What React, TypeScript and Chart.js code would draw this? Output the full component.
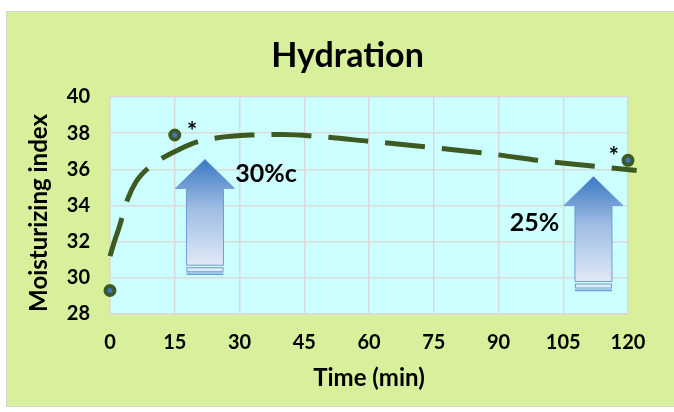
import React, { useEffect, useRef } from "react";
import { Chart, registerables } from "chart.js";

Chart.register(...registerables);

// ---- data ----
const chartTitle = "Hydration";
const xAxisTitle = "Time (min)";
const yAxisTitle = "Moisturizing index";
const xTickValues = [0, 15, 30, 45, 60, 75, 90, 105, 120];
const yTickValues = [28, 30, 32, 34, 36, 38, 40];

const measuredTimes = [0, 15, 120];
const measuredValues = [29.3, 37.9, 36.5];

const trendTimes = [0, 1, 2, 3, 4, 6, 9, 12, 16, 20, 25, 33, 40, 50, 60, 70, 80, 90, 100, 110, 122];
const trendValues = [31.2, 32.0, 32.7, 33.5, 34.3, 35.3, 36.1, 36.6, 37.1, 37.5, 37.75, 37.9, 37.93, 37.78, 37.55, 37.32, 37.07, 36.8, 36.47, 36.22, 35.94];

const arrowTimes = [22, 112];
const arrowTops = [36.55, 35.6];
const arrowBases = [30.2, 29.3];

const noteTexts = ["30%c", "25%", "*", "*"];
const noteTimes = [29.0, 92.6, 19, 116.7];
const noteValues = [35.28, 32.6, 37.6, 36.25];

const FONT = "Lato, 'Open Sans', sans-serif";

const decorPlugin = {
  id: "decor",
  beforeDraw(chart: any) {
    const ctx = chart.ctx;
    const { left, top, right, bottom } = chart.chartArea;
    ctx.save();
    ctx.fillStyle = "#ffffff";
    ctx.fillRect(0, 0, chart.width, chart.height);
    ctx.fillStyle = "#d8ef9b";
    ctx.fillRect(6, 11, 668, 396);
    ctx.strokeStyle = "#d4d4d4";
    ctx.lineWidth = 1;
    ctx.strokeRect(6.5, 11.5, 668, 395);
    ctx.fillStyle = "#ccffff";
    ctx.fillRect(left, top, right - left, bottom - top);
    ctx.restore();
  },
  beforeDatasetsDraw(chart: any) {
    const ctx = chart.ctx;
    const xs = chart.scales.x;
    const ys = chart.scales.y;
    ctx.save();
    arrowTimes.forEach((t, i) => {
      const cx = xs.getPixelForValue(t);
      const yTip = ys.getPixelForValue(arrowTops[i]);
      const yBase = ys.getPixelForValue(arrowBases[i]);
      const headH = 29;
      const headW = 29.5;
      const shaftW = 18.5;
      const shaftBottom = yBase - 9;
      const grad = ctx.createLinearGradient(0, yTip, 0, shaftBottom);
      grad.addColorStop(0, "#3a78c2");
      grad.addColorStop(0.45, "#9dbce3");
      grad.addColorStop(1, "#e1e9f5");
      ctx.beginPath();
      ctx.moveTo(cx, yTip);
      ctx.lineTo(cx + headW, yTip + headH);
      ctx.lineTo(cx + shaftW, yTip + headH);
      ctx.lineTo(cx + shaftW, shaftBottom);
      ctx.lineTo(cx - shaftW, shaftBottom);
      ctx.lineTo(cx - shaftW, yTip + headH);
      ctx.lineTo(cx - headW, yTip + headH);
      ctx.closePath();
      ctx.fillStyle = grad;
      ctx.fill();
      ctx.strokeStyle = "#6d9dd8";
      ctx.lineWidth = 1;
      ctx.stroke();
      ctx.fillStyle = "#e1e9f5";
      ctx.fillRect(cx - shaftW, shaftBottom + 2, shaftW * 2, 4);
      ctx.strokeRect(cx - shaftW + 0.5, shaftBottom + 2.5, shaftW * 2 - 1, 4);
      ctx.strokeStyle = "#9dbce3";
      ctx.beginPath();
      ctx.moveTo(cx - shaftW, shaftBottom + 7.5);
      ctx.lineTo(cx + shaftW, shaftBottom + 7.5);
      ctx.stroke();
      ctx.strokeStyle = "#6d9dd8";
      ctx.lineWidth = 1.5;
      ctx.beginPath();
      ctx.moveTo(cx - shaftW, shaftBottom + 9);
      ctx.lineTo(cx + shaftW, shaftBottom + 9);
      ctx.stroke();
      ctx.lineWidth = 1;
    });
    ctx.restore();
  },
  afterDraw(chart: any) {
    const ctx = chart.ctx;
    const xs = chart.scales.x;
    const ys = chart.scales.y;
    ctx.save();
    ctx.fillStyle = "#000000";
    // chart title
    ctx.textAlign = "center";
    ctx.textBaseline = "alphabetic";
    ctx.font = `bold 34px ${FONT}`;
    ctx.fillText(chartTitle, 347.5, 67);
    // y axis title
    ctx.save();
    ctx.translate(39, 213);
    ctx.rotate(-Math.PI / 2);
    ctx.textAlign = "center";
    ctx.textBaseline = "middle";
    ctx.font = `bold 24px ${FONT}`;
    ctx.fillText(yAxisTitle, 0, 0);
    ctx.restore();
    // notes
    noteTexts.forEach((txt, i) => {
      const x = xs.getPixelForValue(noteTimes[i]);
      const y = ys.getPixelForValue(noteValues[i]);
      ctx.textBaseline = "alphabetic";
      if (txt === "*") {
        ctx.textAlign = "center";
        ctx.font = `bold 24px ${FONT}`;
      } else {
        ctx.textAlign = "left";
        ctx.font = `bold 25px ${FONT}`;
      }
      ctx.fillText(txt, x, y);
    });
    ctx.restore();
  },
};

export default function App() {
  const canvasRef = useRef<HTMLCanvasElement | null>(null);

  useEffect(() => {
    const canvas = canvasRef.current;
    if (!canvas) return;
    const tickFont = { family: FONT, size: 20, weight: "bold" as const };
    const titleFont = { family: FONT, size: 24, weight: "bold" as const };
    const chart = new Chart(canvas, {
      type: "scatter",
      data: {
        datasets: [
          {
            type: "scatter",
            label: "Measured",
            data: measuredTimes.map((t, i) => ({ x: t, y: measuredValues[i] })),
            pointRadius: 4.5,
            pointBorderWidth: 4,
            pointBackgroundColor: "#4472c4",
            pointBorderColor: "#3d5a22",
            clip: false as any,
            order: 0,
          },
          {
            type: "line",
            label: "Trend",
            data: trendTimes.map((t, i) => ({ x: t, y: trendValues[i] })),
            borderColor: "#3d5a22",
            borderWidth: 5,
            borderDash: [40, 17],
            borderCapStyle: "butt",
            pointRadius: 0,
            fill: false,
            cubicInterpolationMode: "monotone",
            clip: false as any,
            order: 1,
          } as any,
        ],
      },
      options: {
        responsive: false,
        animation: false,
        devicePixelRatio: 1,
        layout: { padding: { top: 97, right: 46, left: 0, bottom: 0 } },
        plugins: {
          legend: { display: false },
          tooltip: { enabled: false },
          title: { display: false },
        },
        scales: {
          x: {
            type: "linear",
            min: 0,
            max: 120,
            afterBuildTicks: (scale: any) => {
              scale.ticks = xTickValues.map((v) => ({ value: v }));
            },
            afterFit: (scale: any) => {
              scale.height = 98;
            },
            ticks: { font: tickFont, color: "#000000", padding: 16.5, autoSkip: false, maxRotation: 0 },
            grid: { color: "#d9d9d9", lineWidth: 1.5, drawTicks: false },
            border: { display: true, color: "#d9d9d9", width: 1.5 },
            title: { display: true, text: xAxisTitle, font: titleFont, color: "#000000", padding: { top: 0, bottom: 19 } },
          },
          y: {
            type: "linear",
            min: 28,
            max: 40,
            afterBuildTicks: (scale: any) => {
              scale.ticks = yTickValues.map((v) => ({ value: v }));
            },
            afterFit: (scale: any) => {
              scale.width = 110;
            },
            ticks: { font: tickFont, color: "#000000", padding: 20, autoSkip: false },
            grid: { color: "#d9d9d9", lineWidth: 1.5, drawTicks: false },
            border: { display: true, color: "#d9d9d9", width: 1.5 },
            title: { display: false, text: yAxisTitle },
          },
        },
      } as any,
      plugins: [decorPlugin],
    });
    return () => chart.destroy();
  }, []);

  return (
    <div style={{ position: "absolute", left: 0, top: 0, width: 674, height: 412 }}>
      <canvas ref={canvasRef} width={674} height={412} style={{ width: 674, height: 412, display: "block" }} />
    </div>
  );
}
